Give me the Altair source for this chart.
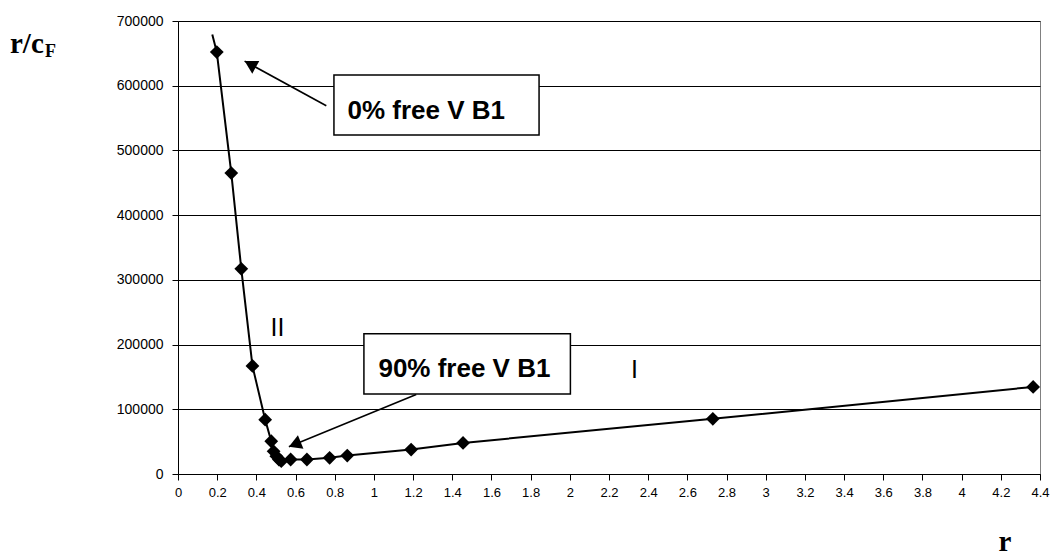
import altair as alt
import pandas as pd

# Measured data (r, r/cF)
r_vals = [0.198, 0.272, 0.323, 0.38, 0.445, 0.476, 0.488, 0.502, 0.515, 0.527,
          0.575, 0.658, 0.774, 0.864, 1.19, 1.455, 2.73, 4.365]
y_vals = [652000, 465000, 317000, 167000, 84000, 50600, 35000, 27500, 22400, 19800,
          22400, 22400, 25000, 28500, 37800, 48000, 85200, 134600]

# line drawn through the points, starting slightly above the first one
line_start_r = [0.175]
line_start_y = [679000]

x_ticks = [round(i * 0.2, 1) for i in range(23)]
y_ticks = [0, 100000, 200000, 300000, 400000, 500000, 600000, 700000]

# annotation boxes
box_x1 = [0.796, 0.949]
box_x2 = [1.843, 2.003]
box_y1 = [616600, 216900]
box_y2 = [524000, 123800]
box_tx = [1.267, 1.462]
box_ty = [561500, 162800]
box_text = ["0% free V B1", "90% free V B1"]

# arrows (start -> tip)
arr_x1 = [0.757, 1.216]
arr_y1 = [569000, 122700]
arr_x2 = [0.34, 0.566]
arr_y2 = [638000, 42000]
arr_ang = [298.8, 247.7]

# region labels
reg_x = [0.508, 2.33]
reg_y = [226000, 161000]
reg_text = ["II", "I"]

SANS = "Liberation Sans"
SERIF = "Liberation Serif"

pts = pd.DataFrame({"r": r_vals, "y": y_vals})
line_df = pd.DataFrame({"r": line_start_r + r_vals, "y": line_start_y + y_vals,
                        "o": list(range(len(r_vals) + 1))})
boxes = pd.DataFrame({"x1": box_x1, "x2": box_x2, "y1": box_y1, "y2": box_y2,
                      "tx": box_tx, "ty": box_ty, "t": box_text})
arrows = pd.DataFrame({"x1": arr_x1, "y1": arr_y1, "x2": arr_x2, "y2": arr_y2, "a": arr_ang})
regs = pd.DataFrame({"x": reg_x, "y": reg_y, "t": reg_text})

xs = alt.Scale(domain=[0, 4.4], nice=False, zero=False)
ys = alt.Scale(domain=[0, 700000], nice=False)

x_axis = alt.Axis(values=x_ticks, format="~g", title=None, grid=False,
                  labelFont=SANS, labelFontSize=13, labelColor="black",
                  domainColor="black", tickColor="black", tickSize=6,
                  labelPadding=6, labelFlush=False, labelOverlap=False)
y_axis = alt.Axis(values=y_ticks, format="d", title=None, grid=True,
                  gridColor="black", gridWidth=1,
                  labelFont=SANS, labelFontSize=14, labelColor="black",
                  domainColor="black", tickColor="black", tickSize=6,
                  labelPadding=9, labelFlush=False)


def X(f):
    return alt.X(f, scale=xs, axis=x_axis)


def Y(f):
    return alt.Y(f, scale=ys, axis=y_axis)


line = alt.Chart(line_df).mark_line(color="black", strokeWidth=2).encode(
    x=X("r:Q"), y=Y("y:Q"), order="o:Q",
)

points = alt.Chart(pts).mark_point(shape="diamond", filled=True, color="black",
                                   size=190, opacity=1).encode(
    x=X("r:Q"), y=Y("y:Q"),
)

shafts = alt.Chart(arrows).mark_rule(color="black", strokeWidth=1.6).encode(
    x=X("x1:Q"), x2="x2:Q", y=Y("y1:Q"), y2="y2:Q",
)

heads = alt.Chart(arrows).mark_point(shape="M0,0L0.57,1L-0.57,1Z", filled=True,
                                     color="black", size=650, opacity=1).encode(
    x=X("x2:Q"), y=Y("y2:Q"),
    angle=alt.Angle("a:Q", scale=None),
)

rects = alt.Chart(boxes).mark_rect(fill="white", stroke="black", strokeWidth=1.5).encode(
    x=X("x1:Q"), x2="x2:Q", y=Y("y1:Q"), y2="y2:Q",
)

box_labels = alt.Chart(boxes).mark_text(font=SANS, fontSize=26, fontWeight="bold",
                                        color="black", align="center",
                                        baseline="middle").encode(
    x=X("tx:Q"), y=Y("ty:Q"), text="t:N",
)

reg_labels = alt.Chart(regs).mark_text(font=SANS, fontSize=25, color="black",
                                       align="center", baseline="middle").encode(
    x=X("x:Q"), y=Y("y:Q"), text="t:N",
)

ytitle = alt.Chart(pd.DataFrame({"t": ["r/c"]})).mark_text(
    font=SERIF, fontSize=29, fontWeight="bold", color="black", align="left",
    baseline="alphabetic").encode(x=alt.value(-168), y=alt.value(32), text="t:N")
ysub = alt.Chart(pd.DataFrame({"t": ["F"]})).mark_text(
    font=SERIF, fontSize=18, fontWeight="bold", color="black", align="left",
    baseline="alphabetic").encode(x=alt.value(-133), y=alt.value(36), text="t:N")
xtitle = alt.Chart(pd.DataFrame({"t": ["r"]})).mark_text(
    font=SERIF, fontSize=29, fontWeight="bold", color="black", align="center",
    baseline="alphabetic").encode(x=alt.value(827), y=alt.value(530), text="t:N")

chart = alt.layer(line, points, shafts, heads, rects, box_labels, reg_labels,
                  ytitle, ysub, xtitle).properties(
    width=862, height=453,
    padding={"left": 178, "top": 21, "right": 13, "bottom": 84},
    autosize="none",
    background="white",
).configure_view(stroke="#808080", strokeWidth=1)

chart.save("out.html", embed_options={"renderer": "svg", "actions": False})
